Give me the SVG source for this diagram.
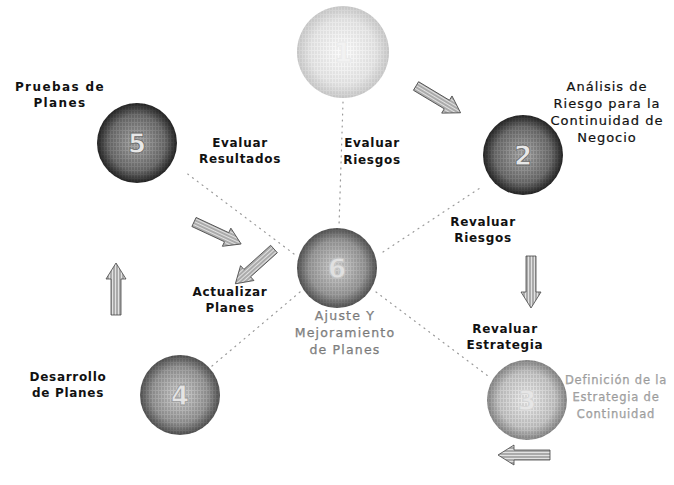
<svg xmlns="http://www.w3.org/2000/svg" width="674" height="485" viewBox="0 0 674 485">
<defs>
<pattern id="stripes" width="3" height="4" patternUnits="userSpaceOnUse">
<rect width="3" height="4" fill="none"/>
<line x1="1" y1="0" x2="1" y2="4" stroke="#000" stroke-width="0.9" stroke-dasharray="2 1"/>
</pattern>
<pattern id="hatch" width="3" height="3" patternUnits="userSpaceOnUse">
<rect width="3" height="3" fill="#e2e2e2"/>
<line x1="0" y1="1" x2="3" y2="1" stroke="#666" stroke-width="0.9"/>
</pattern>
<radialGradient id="gDark" cx="0.5" cy="0.5" r="0.5">
<stop offset="0" stop-color="#b0b0b0"/><stop offset="0.7" stop-color="#727272"/><stop offset="1" stop-color="#262626"/>
</radialGradient>
<radialGradient id="gMid" cx="0.5" cy="0.5" r="0.5">
<stop offset="0" stop-color="#d4d4d4"/><stop offset="0.7" stop-color="#9a9a9a"/><stop offset="1" stop-color="#555"/>
</radialGradient>
<radialGradient id="gLight" cx="0.5" cy="0.5" r="0.5">
<stop offset="0" stop-color="#f0f0f0"/><stop offset="0.7" stop-color="#c8c8c8"/><stop offset="1" stop-color="#8a8a8a"/>
</radialGradient>
<radialGradient id="gFaint" cx="0.5" cy="0.5" r="0.5">
<stop offset="0" stop-color="#fcfcfc"/><stop offset="0.7" stop-color="#e8e8e8"/><stop offset="1" stop-color="#cdcdcd"/>
</radialGradient>
<symbol id="arrow" viewBox="-2 -12 56 24" width="56" height="24" overflow="visible">
<polygon points="0,-5 36,-5 36,-10 52,0 36,10 36,5 0,5" fill="url(#hatch)" stroke="#444" stroke-width="0.8" stroke-linejoin="round"/>
</symbol>
<style>
.lbl{font-family:"DejaVu Sans",Verdana,sans-serif;font-weight:bold;font-size:12px;fill:#111;text-anchor:middle;letter-spacing:0.7px}
.reg{font-family:"DejaVu Sans",Verdana,sans-serif;font-size:13px;fill:#111;stroke:#111;stroke-width:0.2;text-anchor:middle;letter-spacing:1px}
.hol{font-family:"DejaVu Sans",Verdana,sans-serif;font-size:12.5px;fill:#888;stroke:#666;stroke-width:0.25;text-anchor:middle;letter-spacing:1.2px}
.lgt{font-family:"DejaVu Sans",Verdana,sans-serif;font-size:11.5px;fill:#aaa;stroke:#888;stroke-width:0.25;text-anchor:middle;letter-spacing:0.8px}
.num{font-family:"DejaVu Sans",Verdana,sans-serif;font-weight:bold;font-size:26px;text-anchor:middle;stroke-width:0.8}
.dot{stroke:#999;stroke-width:1.2;stroke-dasharray:1 5;fill:none;stroke-linecap:round}
</style>
</defs>
<rect width="674" height="485" fill="#fff"/>

<g id="connectors">
<line class="dot" x1="343" y1="102" x2="339" y2="226"/>
<line class="dot" x1="383" y1="252" x2="480" y2="188"/>
<line class="dot" x1="294" y1="254" x2="185" y2="172"/>
<line class="dot" x1="300" y1="292" x2="212" y2="366"/>
<line class="dot" x1="376" y1="292" x2="488" y2="376"/>
<use href="#arrow" x="-2" y="-12" transform="translate(416,86) rotate(31)"/>
<use href="#arrow" x="-2" y="-12" transform="translate(531,256) rotate(90)"/>
<use href="#arrow" x="-2" y="-12" transform="translate(550,455) rotate(180)"/>
<use href="#arrow" x="-2" y="-12" transform="translate(116,315) rotate(-90)"/>
<use href="#arrow" x="-2" y="-12" transform="translate(194,222) rotate(25)"/>
<use href="#arrow" x="-2" y="-12" transform="translate(274,249) rotate(138)"/>
</g>

<g id="node1">
<circle cx="343" cy="52" r="46" fill="url(#gFaint)"/>
<circle cx="343" cy="52" r="46" fill="url(#stripes)" opacity="0.1"/>
<text class="num" x="343" y="62" fill="#f2f2f2" stroke="#eaeaea">1</text>
</g>
<g id="node2">
<circle cx="523" cy="155" r="40" fill="url(#gDark)"/>
<circle cx="523" cy="155" r="40" fill="url(#stripes)" opacity="0.3"/>
<text class="num" x="523" y="165" fill="#e8e8e8" stroke="#666">2</text>
<text class="reg" x="607" y="91">Análisis de</text>
<text class="reg" x="607" y="108">Riesgo para la</text>
<text class="reg" x="607" y="125">Continuidad de</text>
<text class="reg" x="607" y="142">Negocio</text>
</g>
<g id="node3">
<circle cx="527" cy="400" r="40" fill="url(#gLight)"/>
<circle cx="527" cy="400" r="40" fill="url(#stripes)" opacity="0.2"/>
<text class="num" x="527" y="410" fill="#e6e6e6" stroke="#d4d4d4">3</text>
<text class="lgt" x="616" y="384">Definición de la</text>
<text class="lgt" x="616" y="401">Estrategia de</text>
<text class="lgt" x="616" y="418">Continuidad</text>
</g>
<g id="node4">
<circle cx="180" cy="395" r="40" fill="url(#gMid)"/>
<circle cx="180" cy="395" r="40" fill="url(#stripes)" opacity="0.25"/>
<text class="num" x="180" y="405" fill="#e4e4e4" stroke="#999">4</text>
<text class="lbl" x="68" y="381">Desarrollo</text>
<text class="lbl" x="68" y="397">de Planes</text>
</g>
<g id="node5">
<circle cx="137" cy="143" r="40" fill="url(#gDark)"/>
<circle cx="137" cy="143" r="40" fill="url(#stripes)" opacity="0.3"/>
<text class="num" x="137" y="153" fill="#e8e8e8" stroke="#666">5</text>
<text class="lbl" x="60" y="91" style="letter-spacing:1.4px">Pruebas de</text>
<text class="lbl" x="60" y="107" style="letter-spacing:1.4px">Planes</text>
</g>
<g id="node6">
<circle cx="337" cy="268" r="40" fill="url(#gMid)"/>
<circle cx="337" cy="268" r="40" fill="url(#stripes)" opacity="0.2"/>
<text class="num" x="337" y="278" fill="#e0e0e0" stroke="#c4c4c4">6</text>
<text class="hol" x="345" y="320">Ajuste Y</text>
<text class="hol" x="345" y="337">Mejoramiento</text>
<text class="hol" x="345" y="354">de Planes</text>
</g>

<g id="labels">
<text class="lbl" x="372" y="147">Evaluar</text>
<text class="lbl" x="372" y="164">Riesgos</text>
<text class="lbl" x="240" y="147">Evaluar</text>
<text class="lbl" x="240" y="163">Resultados</text>
<text class="lbl" x="483" y="226">Revaluar</text>
<text class="lbl" x="483" y="242">Riesgos</text>
<text class="lbl" x="505" y="333">Revaluar</text>
<text class="lbl" x="505" y="349">Estrategia</text>
<text class="lbl" x="230" y="296">Actualizar</text>
<text class="lbl" x="230" y="312">Planes</text>
</g>
</svg>
